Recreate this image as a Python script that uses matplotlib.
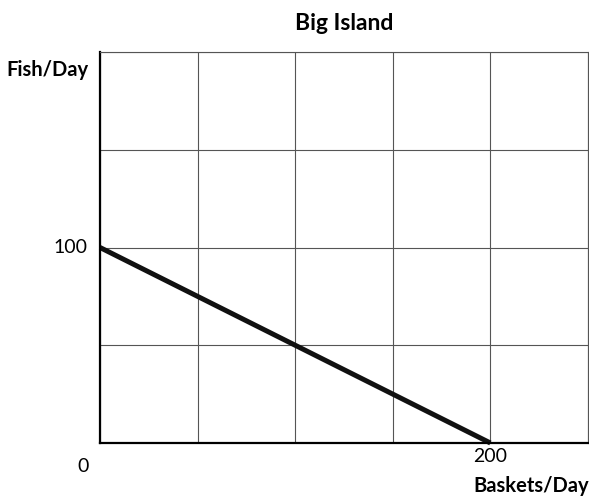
import matplotlib
matplotlib.use("Agg")
import matplotlib.pyplot as plt

# production possibility frontier, Big Island
baskets = [0, 200]
fish = [100, 0]

x_ticks = [0, 50, 100, 150, 200, 250]
y_ticks = [0, 50, 100, 150, 200]

plt.rcParams['font.family'] = ['Lato', 'DejaVu Sans']

fig = plt.figure(figsize=(5.89, 4.96), dpi=100)
ax = fig.add_axes([100 / 589, 1 - 443 / 496, 488 / 589, 391 / 496])

ax.set_xlim(0, 250)
ax.set_ylim(0, 200)
ax.set_xticks(x_ticks)
ax.set_yticks(y_ticks)
ax.grid(True, color='#555555', linewidth=0.8)
ax.tick_params(length=0, labelbottom=False, labelleft=False)
for side in ['left', 'bottom']:
    ax.spines[side].set_linewidth(1.6)
    ax.spines[side].set_color('black')
for side in ['top', 'right']:
    ax.spines[side].set_linewidth(0.8)
    ax.spines[side].set_color('#555555')

ax.plot(baskets, fish, color='#111111', linewidth=3.6, solid_capstyle='butt', clip_on=False)

# axis labels and the few value labels, placed as in the original
fig.text(344 / 589, 1 - 24 / 496, 'Big Island', ha='center', va='center',
         fontsize=16.5, fontweight='bold')
fig.text(6 / 589, 1 - 70 / 496, 'Fish/Day', ha='left', va='center',
         fontsize=14.5, fontweight='bold')
fig.text(589 / 589, 1 - 486 / 496, 'Baskets/Day', ha='right', va='center',
         fontsize=14.5, fontweight='bold')
ax.text(-6.5, 100, '100', ha='right', va='center', fontsize=14)
ax.text(-6, -12, '0', ha='right', va='center', fontsize=14)
ax.text(200, -7, '200', ha='center', va='center', fontsize=14)

fig.savefig('out.png', dpi=100)
